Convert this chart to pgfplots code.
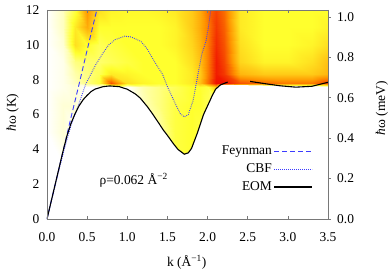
\documentclass[border=0pt]{standalone}
\usepackage{pgfplots}
\pgfplotsset{compat=1.18}
\usepackage{fontspec}
\setmainfont{Liberation Serif}
\definecolor{lblue}{RGB}{60,60,255}
\definecolor{framegray}{RGB}{120,120,120}
\begin{document}
\fontsize{13.5}{15}\selectfont
\begin{tikzpicture}
\begin{axis}[
  name=ax,
  width=281bp, height=209bp, scale only axis,
  xmin=0, xmax=3.5, ymin=0, ymax=12,
  xtick={0,0.5,...,3.5}, ytick={0,2,...,12},
  ytick pos=left,
  xtick pos=both,
  x tick label style={yshift=-9bp, /pgf/number format/.cd, fixed, fixed zerofill, precision=1},
  y tick label style={xshift=-3bp},
  /pgf/number format/assume math mode=true,
  major tick length=3bp,
  y tick style={draw=none},
  tick style={color=framegray, line width=0.6bp},
  axis line style={framegray, line width=0.9bp},
  axis on top,
  colormap={heat}{rgb255(0)=(255,255,255) rgb255(1)=(255,255,45) rgb255(2)=(255,150,0) rgb255(3)=(240,15,0)},
  point meta min=0, point meta max=3,
  xlabel={k (Å\textsuperscript{−1})},
  xlabel style={at={(axis description cs:0.497,-0.206)}, anchor=center},
  ylabel={\textit{ħ}ω (K)},
  ylabel style={at={(axis description cs:-0.122,0.51)}, anchor=center},
  legend style={draw=none, fill=none, at={(0.958,0.37)}, anchor=north east, row sep=3bp},
  legend plot pos=right,
  legend cell align=right,
  legend image code/.code={\draw[#1] (0bp,0bp) -- (38bp,0bp);},
]
\addplot[surf, shader=interp, mesh/cols=20, point meta=explicit, forget plot] table[meta=c] {
x y c
0 0 0
0.2 0 0
0.35 0 0
0.5 0 0
0.65 0 0
0.8 0 0
1.0 0 0
1.2 0 0
1.4 0 0
1.6 0 0
1.8 0 0
1.9 0 0
2.0 0 0
2.1 0 0
2.2 0 0
2.4 0 0
2.7 0 0
3.0 0 0
3.3 0 0
3.5 0 0

0 3 0
0.2 3 0
0.35 3 0
0.5 3 0
0.65 3 0
0.8 3 0
1.0 3 0
1.2 3 0
1.4 3 0.4
1.6 3 0.9
1.8 3 1.0
1.9 3 0.9
2.0 3 0.5
2.1 3 0
2.2 3 0
2.4 3 0
2.7 3 0
3.0 3 0
3.3 3 0
3.5 3 0

0 5 0
0.2 5 0.2
0.35 5 0
0.5 5 0
0.65 5 0
0.8 5 0
1.0 5 0
1.2 5 0.1
1.4 5 0.4
1.6 5 0.9
1.8 5 1.0
1.9 5 0.9
2.0 5 0.5
2.1 5 0
2.2 5 0
2.4 5 0
2.7 5 0
3.0 5 0
3.3 5 0
3.5 5 0

0 6.5 0
0.2 6.5 0.2
0.35 6.5 0.2
0.5 6.5 0
0.65 6.5 0
0.8 6.5 0
1.0 6.5 0
1.2 6.5 0.3
1.4 6.5 0.6
1.6 6.5 0.9
1.8 6.5 1.0
1.9 6.5 1.0
2.0 6.5 0.8
2.1 6.5 0.5
2.2 6.5 0
2.4 6.5 0
2.7 6.5 0
3.0 6.5 0
3.3 6.5 0
3.5 6.5 0

0 7.6 0
0.2 7.6 0.1
0.35 7.6 0.2
0.5 7.6 0
0.65 7.6 0
0.8 7.6 0
1.0 7.6 0
1.2 7.6 0.4
1.4 7.6 0.6
1.6 7.6 0.8
1.8 7.6 1.0
1.9 7.6 1.0
2.0 7.6 0.9
2.1 7.6 1.5
2.2 7.6 0.3
2.4 7.6 0
2.7 7.6 0
3.0 7.6 0
3.3 7.6 0
3.5 7.6 0

0 7.8 0
0.2 7.8 0.1
0.35 7.8 0.3
0.5 7.8 0.6
0.65 7.8 0.9
0.8 7.8 2.5
1.0 7.8 1.3
1.2 7.8 1.1
1.4 7.8 1.0
1.6 7.8 1.0
1.8 7.8 1.2
1.9 7.8 1.6
2.0 7.8 2.3
2.1 7.8 3.0
2.2 7.8 3.0
2.4 7.8 2.5
2.7 7.8 2.3
3.0 7.8 2.2
3.3 7.8 2.2
3.5 7.8 2.6

0 8.3 0
0.2 8.3 0.1
0.35 8.3 0.4
0.5 8.3 0.6
0.65 8.3 0.8
0.8 8.3 1.2
1.0 8.3 1.1
1.2 8.3 1.0
1.4 8.3 1.0
1.6 8.3 1.0
1.8 8.3 1.2
1.9 8.3 1.5
2.0 8.3 2.2
2.1 8.3 2.9
2.2 8.3 2.7
2.4 8.3 1.7
2.7 8.3 1.5
3.0 8.3 1.5
3.3 8.3 1.5
3.5 8.3 1.7

0 9 0
0.2 9 0.1
0.35 9 0.6
0.5 9 0.7
0.65 9 0.7
0.8 9 0.8
1.0 9 0.9
1.2 9 1.0
1.4 9 1.0
1.6 9 1.0
1.8 9 1.3
1.9 9 1.6
2.0 9 2.2
2.1 9 2.9
2.2 9 2.6
2.4 9 1.4
2.7 9 1.1
3.0 9 1.1
3.3 9 1.3
3.5 9 1.6

0 10 0
0.2 10 0.2
0.35 10 1.3
0.5 10 1.0
0.65 10 0.8
0.8 10 0.9
1.0 10 1.0
1.2 10 1.0
1.4 10 1.0
1.6 10 1.1
1.8 10 1.4
1.9 10 1.7
2.0 10 2.2
2.1 10 2.8
2.2 10 2.5
2.4 10 1.3
2.7 10 1.0
3.0 10 1.0
3.3 10 1.1
3.5 10 1.3

0 11 0
0.2 11 0.3
0.35 11 1.2
0.5 11 1.8
0.65 11 1.0
0.8 11 1.0
1.0 11 1.0
1.2 11 1.0
1.4 11 1.0
1.6 11 1.1
1.8 11 1.5
1.9 11 1.8
2.0 11 2.2
2.1 11 2.7
2.2 11 2.4
2.4 11 1.2
2.7 11 1.0
3.0 11 1.0
3.3 11 1.0
3.5 11 1.1

0 12 0
0.2 12 0.3
0.35 12 0.9
0.5 12 2.0
0.65 12 1.3
0.8 12 1.1
1.0 12 1.05
1.2 12 1.05
1.4 12 1.1
1.6 12 1.2
1.8 12 1.5
1.9 12 1.8
2.0 12 2.3
2.1 12 2.6
2.2 12 2.3
2.4 12 1.2
2.7 12 1.0
3.0 12 1.0
3.3 12 1.0
3.5 12 1.0
};
% white region below the EOM dispersion
\addplot[fill=white, draw=none, forget plot] coordinates {
(0,0) (0.1,1.95) (0.2,3.9) (0.25,4.8) (0.3,5.5) (0.35,6.05) (0.4,6.5) (0.45,6.85)
(0.5,7.1) (0.55,7.32) (0.6,7.46) (0.7,7.6) (0.78,7.64) (0.9,7.6) (1.0,7.45)
(1.1,7.18) (1.16,6.95) (1.25,6.45) (1.32,6.0) (1.4,5.45) (1.45,5.1) (1.5,4.8)
(1.57,4.35) (1.63,4.0) (1.71,3.72) (1.76,3.8) (1.8,4.05) (1.87,4.9) (1.95,6.0)
(2.0,6.5) (2.06,7.1) (2.1,7.45) (2.16,7.7) (2.25,7.7) (3.5,7.6) (3.5,0)
} \closedcycle;
\addplot[lblue, line width=0.9bp, dash pattern=on 5bp off 3bp] coordinates {
(0,0) (0.1,1.95) (0.2,3.9) (0.3,5.85) (0.4,7.75) (0.5,9.7) (0.6,11.62) (0.62,12)
};
\addlegendentry{Feynman}
\addplot[lblue, line width=0.9bp, dash pattern=on 0.8bp off 1.2bp] coordinates {
(0,0) (0.1,1.9) (0.2,3.75) (0.3,5.4) (0.38,6.38) (0.48,7.72) (0.6,8.8) (0.7,9.55)
(0.77,10.0) (0.85,10.3) (0.97,10.5) (1.05,10.45) (1.17,10.2) (1.25,9.75) (1.35,8.95)
(1.44,8.3) (1.5,7.6) (1.6,6.6) (1.66,6.05) (1.71,5.86) (1.76,6.0) (1.82,6.8)
(1.88,8.3) (1.93,9.5) (1.98,10.2) (2.01,11.0) (2.04,12)
};
\addlegendentry{CBF}
\addplot[black, line width=1.1bp] coordinates {
(0,0) (0.1,1.95) (0.2,3.9) (0.25,4.8) (0.3,5.5) (0.35,6.05) (0.4,6.5) (0.45,6.85)
(0.5,7.1) (0.55,7.32) (0.6,7.46) (0.7,7.6) (0.78,7.64) (0.9,7.6) (1.0,7.45)
(1.1,7.18) (1.16,6.95) (1.25,6.45) (1.32,6.0) (1.4,5.45) (1.45,5.1) (1.5,4.8)
(1.57,4.35) (1.63,4.0) (1.71,3.72) (1.76,3.8) (1.8,4.05) (1.87,4.9) (1.95,6.0)
(2.0,6.5) (2.06,7.1) (2.1,7.45) (2.16,7.7) (2.25,7.86)
};
\addlegendentry{EOM}
\addplot[black, line width=1.1bp, forget plot] coordinates {
(2.53,7.9) (2.7,7.78) (2.9,7.65) (3.1,7.57) (3.3,7.62) (3.5,7.85)
};
\node at (axis cs:1.08,2.2) {ρ=0.062 Å\textsuperscript{−2}};
\end{axis}
\begin{axis}[
  width=281bp, height=209bp, scale only axis,
  xmin=0, xmax=3.5, ymin=0, ymax=1.0341,
  axis x line=none,
  axis y line*=right,
  ytick={0,0.2,...,1.0},
  y tick label style={xshift=2bp, /pgf/number format/.cd, fixed, fixed zerofill, precision=1},
  /pgf/number format/assume math mode=true,
  tick align=outside,
  major tick length=2.5bp,
  tick style={color=framegray, line width=0.6bp},
  axis line style={framegray, line width=0.9bp},
  ylabel={\textit{ħ}ω (meV)},
  ylabel style={at={(axis description cs:1.192,0.53)}, anchor=center},
]
\addplot[draw=none] coordinates {(0,0)};
\end{axis}
\pgfresetboundingbox
\path ([shift={(-47bp,-55bp)}]ax.south west) rectangle ([shift={(64bp,10bp)}]ax.north east);
\end{tikzpicture}
\end{document}
